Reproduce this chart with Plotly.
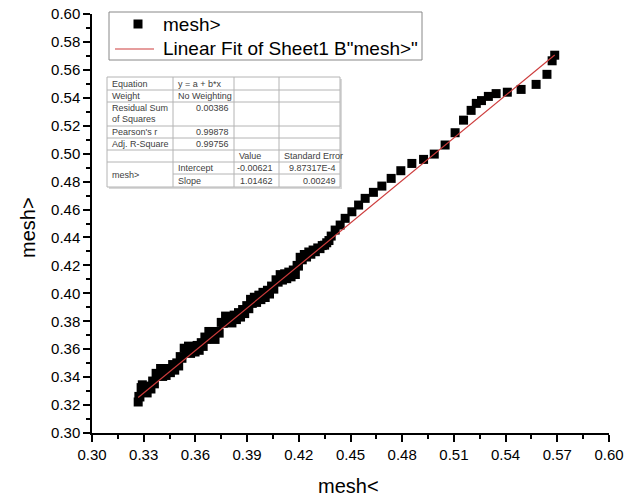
import plotly.graph_objects as go

# Measured points: x = mesh<, y = mesh>
mesh_lt = [
    0.3268, 0.3272, 0.3278, 0.3285, 0.3292, 0.3300, 0.3310, 0.3320, 0.3331, 0.3342,
    0.3352, 0.3362, 0.3372, 0.3385, 0.3398, 0.3410, 0.3420, 0.3430, 0.3442, 0.3455,
    0.3468, 0.3480, 0.3492, 0.3503, 0.3512, 0.3522, 0.3535, 0.3548, 0.3560, 0.3572,
    0.3585, 0.3598, 0.3610, 0.3622, 0.3634, 0.3645, 0.3655, 0.3665, 0.3678, 0.3690,
    0.3702, 0.3714, 0.3726, 0.3738, 0.3750, 0.3762, 0.3775, 0.3788, 0.3800, 0.3812,
    0.3825, 0.3838, 0.3850, 0.3862, 0.3874, 0.3886, 0.3898, 0.3910, 0.3920, 0.3930,
    0.3942, 0.3955, 0.3968, 0.3980, 0.3992, 0.4005, 0.4018, 0.4030, 0.4042, 0.4055,
    0.4068, 0.4080, 0.4092, 0.4105, 0.4118, 0.4130, 0.4142, 0.4155, 0.4168, 0.4180,
    0.4190, 0.4198, 0.4208, 0.4220, 0.4232, 0.4245, 0.4258, 0.4270, 0.4283, 0.4296,
    0.4310, 0.4323, 0.4336, 0.4350, 0.4362, 0.4375, 0.4388,
    0.4411, 0.4440, 0.4469, 0.4508, 0.4547, 0.4585, 0.4633, 0.4682, 0.4736, 0.4792,
    0.4856, 0.4924, 0.4986, 0.5049, 0.5107, 0.5156, 0.5200, 0.5230, 0.5260, 0.5300,
    0.5345, 0.5410, 0.5490, 0.5577, 0.5640, 0.5670, 0.5685,
]
mesh_gt = [
    0.3222, 0.3262, 0.3258, 0.3325, 0.3345, 0.3292, 0.3318, 0.3287, 0.3336, 0.3315,
    0.3372, 0.3352, 0.3427, 0.3410, 0.3462, 0.3405, 0.3440, 0.3412, 0.3462, 0.3432,
    0.3490, 0.3450, 0.3502, 0.3480, 0.3547, 0.3535, 0.3607, 0.3578, 0.3622, 0.3570,
    0.3614, 0.3580, 0.3627, 0.3592, 0.3647, 0.3620, 0.3687, 0.3670, 0.3727, 0.3688,
    0.3717, 0.3670, 0.3727, 0.3715, 0.3792, 0.3785, 0.3837, 0.3792, 0.3827, 0.3788,
    0.3844, 0.3812, 0.3862, 0.3830, 0.3884, 0.3855, 0.3912, 0.3890, 0.3957, 0.3928,
    0.3972, 0.3935, 0.3987, 0.3955, 0.4007, 0.3970, 0.4022, 0.3995, 0.4052, 0.4030,
    0.4097, 0.4080, 0.4134, 0.4095, 0.4140, 0.4105, 0.4152, 0.4118, 0.4167, 0.4135,
    0.4200, 0.4195, 0.4258, 0.4240, 0.4278, 0.4260, 0.4296, 0.4280, 0.4310, 0.4298,
    0.4325, 0.4320, 0.4342, 0.4345, 0.4362, 0.4378, 0.4410,
    0.4453, 0.4489, 0.4537, 0.4584, 0.4632, 0.4680, 0.4723, 0.4768, 0.4823, 0.4878,
    0.4930, 0.4959, 0.4997, 0.5062, 0.5150, 0.5240, 0.5310, 0.5360, 0.5380, 0.5410,
    0.5430, 0.5440, 0.5460, 0.5496, 0.5568, 0.5665, 0.5705,
]

# Linear fit results
fit_intercept = -0.00621
fit_slope = 1.01462
fit_intercept_err = "9.87317E-4"
fit_slope_err = "0.00249"
residual_ss = "0.00386"
pearson_r = "0.99878"
adj_r2 = "0.99756"

series_name = "mesh>"
fit_name = 'Linear Fit of Sheet1 B"mesh>"'

x_ticks = [0.30, 0.33, 0.36, 0.39, 0.42, 0.45, 0.48, 0.51, 0.54, 0.57, 0.60]
y_ticks = [0.30, 0.32, 0.34, 0.36, 0.38, 0.40, 0.42, 0.44, 0.46, 0.48, 0.50,
           0.52, 0.54, 0.56, 0.58, 0.60]

FONT = "Liberation Sans, Arial, sans-serif"
W_FIG, H_FIG = 624, 497
M_L, M_R, M_T, M_B = 92, 15, 14, 64
PW = W_FIG - M_L - M_R
PH = H_FIG - M_T - M_B

MARKER_COLOR = "black"
FIT_COLOR = "rgb(205,60,60)"


def px_x(px):
    return (px - M_L) / PW


def px_y(py):
    return (H_FIG - M_B - py) / PH


fit_x = [min(mesh_lt), max(mesh_lt)]
fit_y = [fit_intercept + fit_slope * v for v in fit_x]

fig = go.Figure()
fig.add_trace(go.Scatter(
    x=mesh_lt, y=mesh_gt, mode="markers", name=series_name,
    marker=dict(symbol="square", size=9, color=MARKER_COLOR, line=dict(width=0)),
))
fig.add_trace(go.Scatter(
    x=fit_x, y=fit_y, mode="lines", name=fit_name,
    line=dict(color=FIT_COLOR, width=1.2),
))

shapes = []
annotations = []

# Legend box drawn in pixel-aligned paper coordinates
shapes.append(dict(type="rect", xref="paper", yref="paper",
                   x0=px_x(109), x1=px_x(422), y0=px_y(60), y1=px_y(12),
                   line=dict(color="#888888", width=1), fillcolor="white", layer="above"))
shapes.append(dict(type="rect", xref="paper", yref="paper",
                   x0=px_x(133.5), x1=px_x(142.5), y0=px_y(28.5), y1=px_y(19.5),
                   line=dict(width=0), fillcolor=MARKER_COLOR, layer="above"))
shapes.append(dict(type="line", xref="paper", yref="paper",
                   x0=px_x(115), x1=px_x(154), y0=px_y(49), y1=px_y(49),
                   line=dict(color=FIT_COLOR, width=1.2), layer="above"))
annotations.append(dict(text=series_name, xref="paper", yref="paper",
                        x=px_x(161), y=px_y(24), xanchor="left", yanchor="middle",
                        showarrow=False, font=dict(family=FONT, size=19, color="black")))
annotations.append(dict(text=fit_name, xref="paper", yref="paper",
                        x=px_x(161), y=px_y(48), xanchor="left", yanchor="middle",
                        showarrow=False, font=dict(family=FONT, size=19, color="black")))

# Fit statistics table
tbl_l, tbl_r, tbl_t, tbl_b = 107, 340, 77, 187
col_x = [173, 234, 279]
row_y_full = [90, 102, 126, 138, 150, 162]
row_y_part = [174]
line_col = "#b4b4b4"
shapes.append(dict(type="rect", xref="paper", yref="paper",
                   x0=px_x(tbl_l + 2), x1=px_x(tbl_r + 2), y0=px_y(tbl_b + 2), y1=px_y(tbl_t + 2),
                   line=dict(width=0), fillcolor="#d8d8d8", layer="above"))
shapes.append(dict(type="rect", xref="paper", yref="paper",
                   x0=px_x(tbl_l), x1=px_x(tbl_r), y0=px_y(tbl_b), y1=px_y(tbl_t),
                   line=dict(color=line_col, width=1), fillcolor="white", layer="above"))
for cx in col_x:
    shapes.append(dict(type="line", xref="paper", yref="paper",
                       x0=px_x(cx), x1=px_x(cx), y0=px_y(tbl_t), y1=px_y(tbl_b),
                       line=dict(color=line_col, width=1), layer="above"))
for ry in row_y_full:
    shapes.append(dict(type="line", xref="paper", yref="paper",
                       x0=px_x(tbl_l), x1=px_x(tbl_r), y0=px_y(ry), y1=px_y(ry),
                       line=dict(color=line_col, width=1), layer="above"))
for ry in row_y_part:
    shapes.append(dict(type="line", xref="paper", yref="paper",
                       x0=px_x(col_x[0]), x1=px_x(tbl_r), y0=px_y(ry), y1=px_y(ry),
                       line=dict(color=line_col, width=1), layer="above"))

cells = [
    ("Equation", 110, 84, "left"),
    ("y = a + b*x", 176, 84, "left"),
    ("Weight", 110, 96, "left"),
    ("No Weighting", 176, 96, "left"),
    ("Residual Sum", 110, 108, "left"),
    ("of Squares", 110, 119, "left"),
    (residual_ss, 231, 108, "right"),
    ("Pearson's r", 110, 132, "left"),
    (pearson_r, 231, 132, "right"),
    ("Adj. R-Square", 110, 144, "left"),
    (adj_r2, 231, 144, "right"),
    ("Value", 237, 156, "left"),
    ("Standard Error", 282, 156, "left"),
    (series_name, 110, 175, "left"),
    ("Intercept", 176, 168, "left"),
    (f"{fit_intercept:.5f}", 275, 168, "right"),
    (fit_intercept_err, 338, 168, "right"),
    ("Slope", 176, 181, "left"),
    (f"{fit_slope:.5f}", 275, 181, "right"),
    (fit_slope_err, 338, 181, "right"),
]
for txt, x, y, al in cells:
    annotations.append(dict(
        text=txt, xref="paper", yref="paper", x=px_x(x), y=px_y(y),
        xanchor=al, yanchor="middle", showarrow=False,
        font=dict(family=FONT, size=9, color="#404040"),
    ))

# Axis titles
annotations.append(dict(text="mesh<", xref="paper", yref="paper",
                        x=px_x(348), y=px_y(486), xanchor="center", yanchor="middle",
                        showarrow=False, font=dict(family=FONT, size=20, color="black")))
annotations.append(dict(text="mesh>", xref="paper", yref="paper",
                        x=px_x(28), y=px_y(228), xanchor="center", yanchor="middle",
                        textangle=-90, showarrow=False,
                        font=dict(family=FONT, size=20, color="black")))

axis_common = dict(
    showgrid=False, zeroline=False, showline=True, linecolor="black", linewidth=1.5,
    ticks="outside", ticklen=7, tickwidth=1.5, tickcolor="black",
    tickformat=".2f", tickfont=dict(family=FONT, size=15, color="black"),
    mirror=False,
)
fig.update_layout(
    width=W_FIG, height=H_FIG,
    margin=dict(l=M_L, r=M_R, t=M_T, b=M_B, autoexpand=False),
    paper_bgcolor="white", plot_bgcolor="white",
    xaxis=dict(range=[0.30, 0.60], tickvals=x_ticks,
               minor=dict(dtick=0.015, ticks="outside", ticklen=4, tickwidth=1.5,
                          tickcolor="black", showgrid=False),
               **axis_common),
    yaxis=dict(range=[0.30, 0.60], tickvals=y_ticks,
               minor=dict(dtick=0.01, ticks="outside", ticklen=4, tickwidth=1.5,
                          tickcolor="black", showgrid=False),
               **axis_common),
    shapes=shapes,
    annotations=annotations,
    showlegend=False,
)

fig.write_html("out.html")
